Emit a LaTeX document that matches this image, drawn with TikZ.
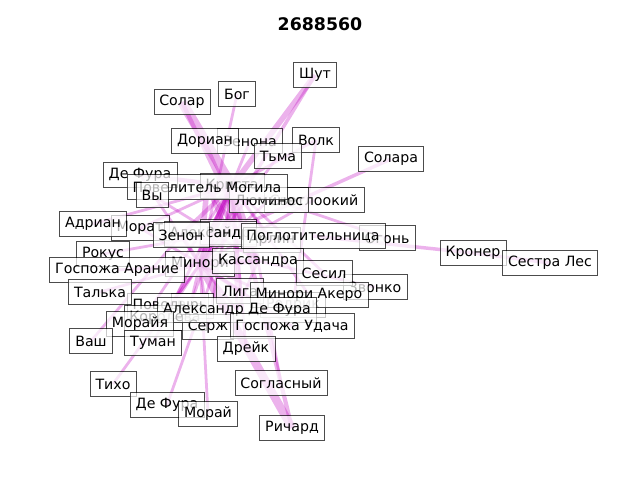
\documentclass[tikz,border=0pt]{standalone}
\usepackage{fontspec}
\setmainfont{DejaVu Sans}
\usetikzlibrary{backgrounds}
\definecolor{edgemag}{RGB}{191,0,191}
\tikzset{
  lbl/.style={draw=black, draw opacity=0.7, fill=white, fill opacity=0.7,
    text opacity=1, inner xsep=4pt, inner ysep=2.5pt, minimum height=18pt,
    font=\fontsize{10.2}{12}\selectfont},
  link/.style={draw=edgemag, opacity=0.3, line width=#1},
  link/.default=2pt
}
\begin{document}
\begin{tikzpicture}[x=0.72pt,y=-0.72pt]
      \useasboundingbox (0,0) rectangle (640,480);
      \node[font=\fontsize{12.5}{14}\selectfont\bfseries] (title) at (320,24) {2688560};
      \path
        (232,186) node[lbl] (0){Криста}
        (140,228) node[lbl] (1){Морат}
        (228,232) node[lbl] (2){Райли}
        (210,234) node[lbl] (3){Александр}
        (272,240) node[lbl] (4){Арлин}
        (387,238) node[lbl] (5){Огонь}
        (293,305) node[lbl] (6){Родрик}
        (190,306) node[lbl] (7){Рис}
        (170,306) node[lbl] (8){Поводырь}
        (165,318) node[lbl] (9){Королева}
        (250,141) node[lbl] (10){Зенона}
        (314,200) node[lbl] (11){Светлоокий}
        (200,264) node[lbl] (12){Минори}
        (375,287) node[lbl] (13){Звонко}
        (208,327) node[lbl] (14){Серж}
        (240,291) node[lbl] (15){Лига}
        (315,75) node[lbl] (16){Шут}
        (237,94) node[lbl] (17){Бог}
        (182,102) node[lbl] (18){Солар}
        (205,141) node[lbl] (19){Дориан}
        (316,140) node[lbl] (20){Волк}
        (278,156) node[lbl] (21){Тьма}
        (391,159) node[lbl] (22){Солара}
        (140,175) node[lbl] (23){Де Фура}
        (269,200) node[lbl] (24){Люминос}
        (207,187) node[lbl] (25){Повелитель Могила}
        (152,195) node[lbl] (26){Вы}
        (93,224) node[lbl] (27){Адриан}
        (181,235) node[lbl] (28){Зенон}
        (313,236) node[lbl] (29){Поглотительница}
        (473,253) node[lbl] (30){Кронер}
        (550,263) node[lbl] (31){Сестра Лес}
        (103,254) node[lbl] (32){Рокус}
        (117,270) node[lbl] (33){Госпожа Арание}
        (258,261) node[lbl] (34){Кассандра}
        (324,273) node[lbl] (35){Сесил}
        (100,292) node[lbl] (36){Талька}
        (309,295) node[lbl] (37){Минори Акеро}
        (237,310) node[lbl] (38){Александр Де Фура}
        (292,326) node[lbl] (39){Госпожа Удача}
        (140,324) node[lbl] (40){Морайя}
        (91,341) node[lbl] (41){Ваш}
        (153,343) node[lbl] (42){Туман}
        (246,349) node[lbl] (43){Дрейк}
        (281,383) node[lbl] (44){Согласный}
        (113,384) node[lbl] (45){Тихо}
        (167,405) node[lbl] (46){Де Фура}
        (208,414) node[lbl] (47){Морай}
        (292,428) node[lbl] (48){Ричард};
      \begin{scope}[on background layer]
        \draw[link=4pt] (16.center) to (0.center);
        \draw[link=2.5pt] (16.center) to (12.center);
        \draw[link] (17.center) to (12.center);
        \draw[link=7pt] (18.center) to (0.center);
        \draw[link=3pt] (18.center) to (34.center);
        \draw[link] (20.center) to (0.center);
        \draw[link] (20.center) to (6.center);
        \draw[link=2.5pt] (22.center) to (2.center);
        \draw[link] (21.center) to (12.center);
        \draw[link] (19.center) to (34.center);
        \draw[link] (10.center) to (12.center);
        \draw[link=3pt] (23.center) to (0.center);
        \draw[link] (23.center) to (12.center);
        \draw[link] (26.center) to (34.center);
        \draw[link] (27.center) to (0.center);
        \draw[link] (1.center) to (0.center);
        \draw[link] (1.center) to (12.center);
        \draw[link] (32.center) to (2.center);
        \draw[link] (33.center) to (34.center);
        \draw[link] (36.center) to (12.center);
        \draw[link] (40.center) to (0.center);
        \draw[link] (41.center) to (28.center);
        \draw[link] (42.center) to (0.center);
        \draw[link] (45.center) to (12.center);
        \draw[link] (46.center) to (2.center);
        \draw[link] (47.center) to (12.center);
        \draw[link=6pt] (48.center) to (12.center);
        \draw[link=3pt] (48.center) to (0.center);
        \draw[link] (44.center) to (34.center);
        \draw[link] (43.center) to (0.center);
        \draw[link] (35.center) to (0.center);
        \draw[link] (13.center) to (34.center);
        \draw[link=2.5pt] (29.center) to (30.center);
        \draw[link=2.5pt] (30.center) to (31.center);
        \draw[link] (5.center) to (0.center);
        \draw[link] (11.center) to (12.center);
        \draw[link] (37.center) to (0.center);
        \draw[link] (39.center) to (12.center);
        \draw[link] (14.center) to (0.center);
        \draw[link] (38.center) to (0.center);
        \draw[link=5pt] (0.center) to (12.center);
        \draw[link=4pt] (0.center) to (34.center);
        \draw[link=4pt] (0.center) to (2.center);
        \draw[link=4pt] (12.center) to (34.center);
        \draw[link=4pt] (2.center) to (12.center);
        \draw[link=3pt] (3.center) to (0.center);
        \draw[link=3pt] (3.center) to (12.center);
        \draw[link=4pt] (25.center) to (12.center);
        \draw[link=3pt] (25.center) to (34.center);
        \draw[link=3pt] (25.center) to (2.center);
        \draw[link] (24.center) to (12.center);
        \draw[link] (4.center) to (12.center);
        \draw[link] (4.center) to (0.center);
        \draw[link] (7.center) to (0.center);
        \draw[link] (7.center) to (12.center);
        \draw[link] (6.center) to (12.center);
        \draw[link] (9.center) to (0.center);
        \draw[link] (9.center) to (12.center);
        \draw[link] (8.center) to (12.center);
        \draw[link=3pt] (28.center) to (0.center);
        \draw[link=3pt] (28.center) to (12.center);
        \draw[link=3pt] (15.center) to (0.center);
        \draw[link=3pt] (15.center) to (12.center);
        \draw[link] (24.center) to (0.center);
        \draw[link] (14.center) to (12.center);
        \draw[link] (38.center) to (12.center);
        \draw[link] (38.center) to (34.center);
        \draw[link] (2.center) to (34.center);
      \end{scope}
    \end{tikzpicture}
\end{document}
